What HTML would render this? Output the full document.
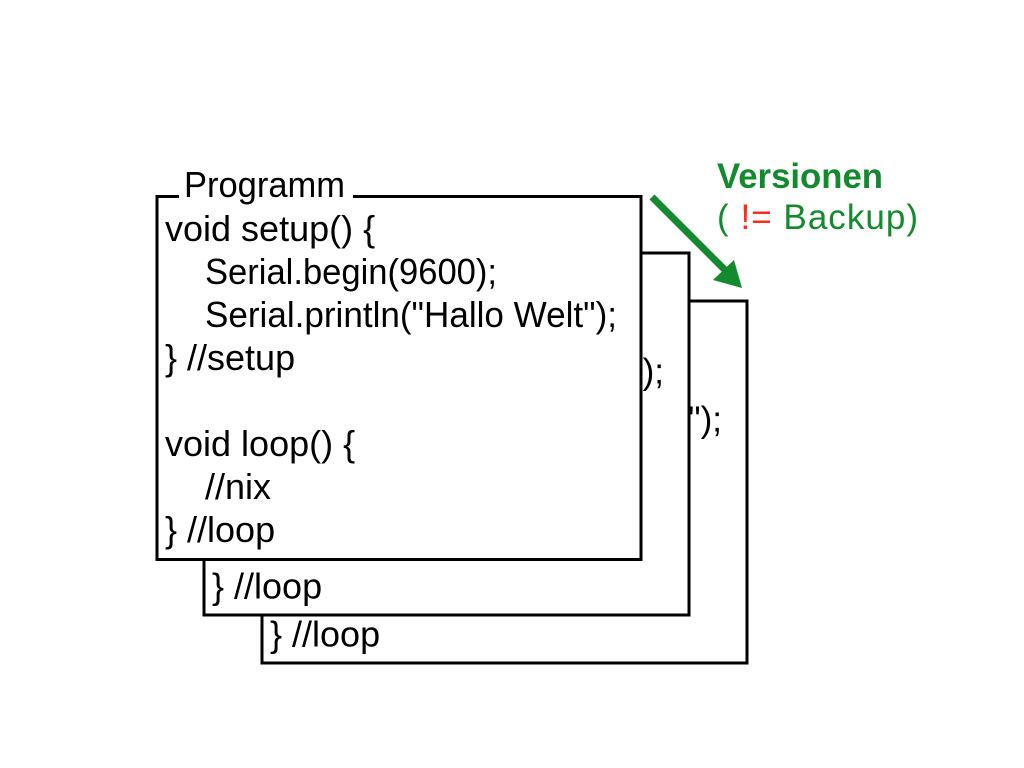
<!DOCTYPE html>
<html>
<head>
<meta charset="utf-8">
<style>
  html, body { margin:0; padding:0; background:#fff; }
  body { width:1024px; height:768px; overflow:hidden; }
  svg { display:block; }
  .t { font-family:"Liberation Sans", Arial, sans-serif; font-size:36px; fill:#000; }
</style>
</head>
<body>
<svg width="1024" height="768" viewBox="0 0 1024 768" xmlns="http://www.w3.org/2000/svg">
  <rect x="0" y="0" width="1024" height="768" fill="#fff"/>

  <!-- Box 3 (back) -->
  <g transform="translate(105,104.5)">
    <rect x="157" y="196.5" width="485" height="362" fill="#fff" stroke="#000" stroke-width="3"/>
    <text class="t" x="165" y="241">void setup() {</text>
    <text class="t" x="205" y="284" textLength="292" lengthAdjust="spacingAndGlyphs">Serial.begin(9600);</text>
    <text class="t" x="205" y="327" textLength="412" lengthAdjust="spacingAndGlyphs">Serial.println("Hallo Welt");</text>
    <text class="t" x="165" y="370">} //setup</text>
    <text class="t" x="165" y="456">void loop() {</text>
    <text class="t" x="205" y="499">//nix</text>
    <text class="t" x="165" y="542">} //loop</text>
  </g>

  <!-- Box 2 (middle) -->
  <g transform="translate(47,56.5)">
    <rect x="157" y="196.5" width="485" height="362" fill="#fff" stroke="#000" stroke-width="3"/>
    <text class="t" x="165" y="241">void setup() {</text>
    <text class="t" x="205" y="284" textLength="292" lengthAdjust="spacingAndGlyphs">Serial.begin(9600);</text>
    <text class="t" x="205" y="327" textLength="412" lengthAdjust="spacingAndGlyphs">Serial.println("Hallo Welt");</text>
    <text class="t" x="165" y="370">} //setup</text>
    <text class="t" x="165" y="456">void loop() {</text>
    <text class="t" x="205" y="499">//nix</text>
    <text class="t" x="165" y="542">} //loop</text>
  </g>

  <!-- Box 1 (front) -->
  <g>
    <rect x="157" y="196.5" width="484" height="363" fill="#fff" stroke="#000" stroke-width="3"/>
    <rect x="179" y="180" width="174" height="20" fill="#fff"/>
    <text class="t" x="184" y="197" textLength="161" lengthAdjust="spacingAndGlyphs">Programm</text>
    <text class="t" x="165" y="241">void setup() {</text>
    <text class="t" x="205" y="284" textLength="292" lengthAdjust="spacingAndGlyphs">Serial.begin(9600);</text>
    <text class="t" x="205" y="327" textLength="412" lengthAdjust="spacingAndGlyphs">Serial.println("Hallo Welt");</text>
    <text class="t" x="165" y="370">} //setup</text>
    <text class="t" x="165" y="456">void loop() {</text>
    <text class="t" x="205" y="499">//nix</text>
    <text class="t" x="165" y="542">} //loop</text>
  </g>

  <!-- Arrow -->
  <line x1="652" y1="197" x2="727" y2="272" stroke="#138a2d" stroke-width="7" stroke-linecap="butt"/>
  <polygon points="742,288 713,280 734,260" fill="#138a2d"/>

  <!-- Labels -->
  <text x="717" y="188" font-family="'Liberation Sans', Arial, sans-serif" font-size="35" font-weight="bold" fill="#138a2d" textLength="166" lengthAdjust="spacingAndGlyphs">Versionen</text>
  <text x="717" y="229" font-family="'Liberation Sans', Arial, sans-serif" font-size="35" fill="#138a2d" textLength="201" lengthAdjust="spacing">( <tspan fill="#ff2a1a">!=</tspan> Backup)</text>
</svg>
</body>
</html>
